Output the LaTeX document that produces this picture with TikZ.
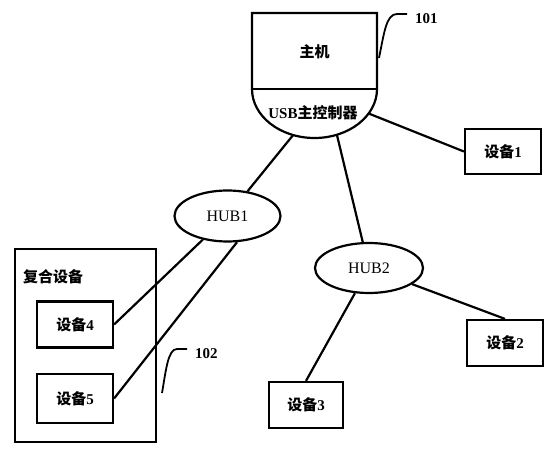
\documentclass[tikz,border=0pt]{standalone}
\usepackage{fontspec}
\setmainfont{Liberation Serif}
\newfontfamily\cjk{Noto Sans CJK SC}
\newcommand{\zh}[1]{{\cjk #1}}
\usetikzlibrary{shapes.geometric}

\begin{document}
\begin{tikzpicture}[
  x=1pt, y=1pt,
  dev/.style={rectangle, draw=black, line width=2.2pt, fill=white,
              minimum width=76pt, minimum height=46pt, inner sep=0pt,
              font=\fontsize{15}{17}\selectfont\bfseries},
  hub/.style={ellipse, draw=black, line width=2.2pt, fill=white,
              minimum width=106pt, minimum height=51pt, inner sep=0pt,
              font=\fontsize{16}{18}\selectfont},
  lbl/.style={font=\fontsize{15}{17}\selectfont\bfseries, inner sep=0pt},
  link/.style={line width=2.2pt},
  tag/.style={line width=1.8pt}
]
\useasboundingbox (0,0) rectangle (555,450);

% host with USB controller
\draw[line width=2.2pt] (314.5,361) coordinate (arcc) ++(-62.5,0) -- ++(0,76) -- ++(125,0) -- ++(0,-76)
  arc[start angle=0, end angle=-180, x radius=62.5, y radius=49];
\draw[line width=2.2pt] (252,361) -- (377,361);
\node[lbl] (host) at (314.5,398) {\zh{主机}};
\node[lbl] (ctrl) at (313,337) {USB\zh{主控制器}};
\path (arcc) ++(250:62.5 and 49) coordinate (p1);
\path (arcc) ++(291:62.5 and 49) coordinate (p2);
\path (arcc) ++(330:62.5 and 49) coordinate (p3);

% composite device
\node[rectangle, draw=black, line width=2.2pt, minimum width=141pt, minimum height=193pt,
      inner sep=0pt] (comp) at (85.5,104.5) {};
\node[lbl, anchor=west] (compl) at (23,173) {\zh{复合设备}};

\node[dev] (dev4) at (75,125.5) {\zh{设备}4};
\node[dev, minimum height=49pt] (dev5) at (75,51.5) {\zh{设备}5};

\node[hub] (hub1) at (227.5,234) {HUB1};
\node[hub, minimum width=108pt, minimum height=50pt] (hub2) at (369,182) {HUB2};

\node[dev, minimum height=45pt] (dev1) at (503,298.5) {\zh{设备}1};
\node[dev] (dev2) at (505,107) {\zh{设备}2};
\node[dev, minimum width=74pt] (dev3) at (306,45) {\zh{设备}3};

\draw[link] (p1) -- (hub1);
\draw[link] (p2) -- (hub2);
\draw[link] (p3) -- (dev1.west);
\draw[link] (hub2) -- (dev2.north);
\draw[link] (hub2) -- (dev3.north);
\draw[link] (hub1) -- (dev4.east);
\draw[link] (hub1.-70) -- (dev5.east);

% reference numerals
\node[lbl, anchor=north west] (n101) at (415,437) {101};
\node[lbl, anchor=north west] (n102) at (195,102) {102};
\coordinate (t101) at (379,392);
\coordinate (t102) at (162,57);
\draw[tag] (t101) .. controls (384,416) and (386,436) .. (397,436) -- ([xshift=-8pt,yshift=-1pt]n101.north west);
\draw[tag] (t102) .. controls (166,80) and (168,101) .. (177,101) -- ([xshift=-8pt,yshift=-1pt]n102.north west);

\end{tikzpicture}
\end{document}
